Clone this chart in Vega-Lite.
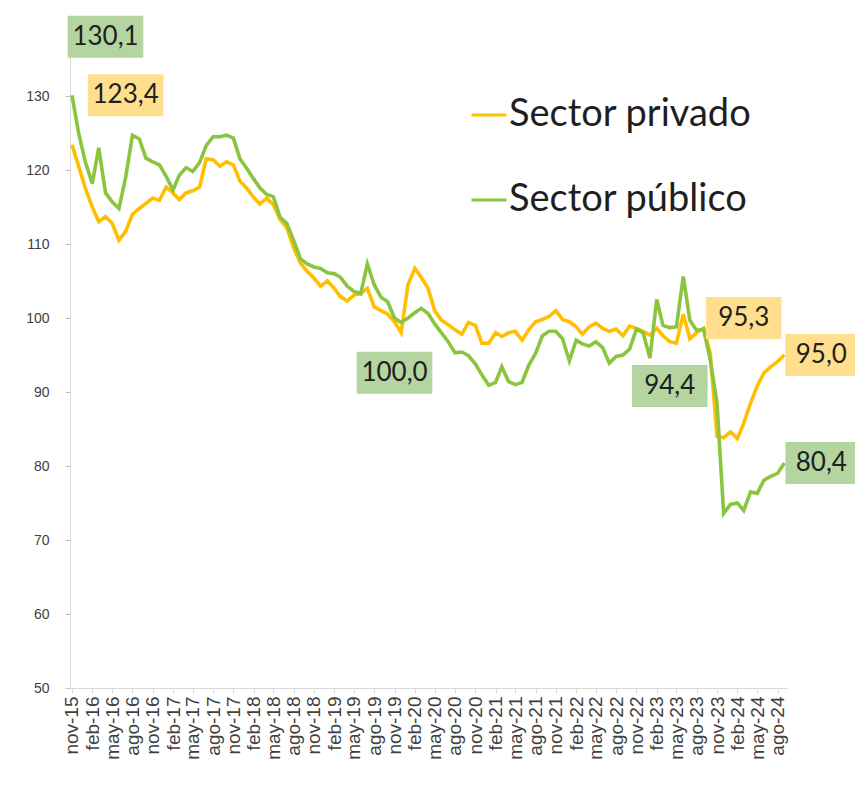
{
  "$schema": "https://vega.github.io/schema/vega-lite/v6.json",
  "width": 717,
  "height": 666,
  "autosize": {"type": "none"},
  "padding": {"left": 70, "top": 22, "right": 68, "bottom": 101},
  "background": "white",
  "config": {"view": {"stroke": null}, "font": "Liberation Sans"},
  "datasets": {
    "serie": [
      {"fecha": "2015-11-01", "privado": 123.4, "publico": 130.1},
      {"fecha": "2015-12-01", "privado": 120.5, "publico": 125.0},
      {"fecha": "2016-01-01", "privado": 117.5, "publico": 121.0},
      {"fecha": "2016-02-01", "privado": 115.0, "publico": 118.2},
      {"fecha": "2016-03-01", "privado": 113.0, "publico": 123.0},
      {"fecha": "2016-04-01", "privado": 113.7, "publico": 116.9},
      {"fecha": "2016-05-01", "privado": 112.8, "publico": 115.7},
      {"fecha": "2016-06-01", "privado": 110.5, "publico": 114.8},
      {"fecha": "2016-07-01", "privado": 111.7, "publico": 119.0},
      {"fecha": "2016-08-01", "privado": 114.0, "publico": 124.7},
      {"fecha": "2016-09-01", "privado": 114.8, "publico": 124.2},
      {"fecha": "2016-10-01", "privado": 115.5, "publico": 121.6},
      {"fecha": "2016-11-01", "privado": 116.2, "publico": 121.1},
      {"fecha": "2016-12-01", "privado": 115.9, "publico": 120.7},
      {"fecha": "2017-01-01", "privado": 117.7, "publico": 119.1},
      {"fecha": "2017-02-01", "privado": 116.9, "publico": 117.3},
      {"fecha": "2017-03-01", "privado": 116.0, "publico": 119.3},
      {"fecha": "2017-04-01", "privado": 116.9, "publico": 120.3},
      {"fecha": "2017-05-01", "privado": 117.2, "publico": 119.8},
      {"fecha": "2017-06-01", "privado": 117.7, "publico": 121.0},
      {"fecha": "2017-07-01", "privado": 121.5, "publico": 123.3},
      {"fecha": "2017-08-01", "privado": 121.4, "publico": 124.5},
      {"fecha": "2017-09-01", "privado": 120.5, "publico": 124.5},
      {"fecha": "2017-10-01", "privado": 121.1, "publico": 124.7},
      {"fecha": "2017-11-01", "privado": 120.7, "publico": 124.3},
      {"fecha": "2017-12-01", "privado": 118.5, "publico": 121.5},
      {"fecha": "2018-01-01", "privado": 117.5, "publico": 120.2},
      {"fecha": "2018-02-01", "privado": 116.3, "publico": 118.8},
      {"fecha": "2018-03-01", "privado": 115.4, "publico": 117.6},
      {"fecha": "2018-04-01", "privado": 116.2, "publico": 116.7},
      {"fecha": "2018-05-01", "privado": 115.3, "publico": 116.4},
      {"fecha": "2018-06-01", "privado": 113.3, "publico": 113.6},
      {"fecha": "2018-07-01", "privado": 112.2, "publico": 112.8},
      {"fecha": "2018-08-01", "privado": 109.5, "publico": 110.5},
      {"fecha": "2018-09-01", "privado": 107.4, "publico": 108.0},
      {"fecha": "2018-10-01", "privado": 106.3, "publico": 107.3},
      {"fecha": "2018-11-01", "privado": 105.4, "publico": 106.9},
      {"fecha": "2018-12-01", "privado": 104.3, "publico": 106.7},
      {"fecha": "2019-01-01", "privado": 105.0, "publico": 106.1},
      {"fecha": "2019-02-01", "privado": 104.0, "publico": 106.0},
      {"fecha": "2019-03-01", "privado": 102.9, "publico": 105.5},
      {"fecha": "2019-04-01", "privado": 102.3, "publico": 104.3},
      {"fecha": "2019-05-01", "privado": 103.1, "publico": 103.6},
      {"fecha": "2019-06-01", "privado": 103.3, "publico": 103.3},
      {"fecha": "2019-07-01", "privado": 104.0, "publico": 107.3},
      {"fecha": "2019-08-01", "privado": 101.5, "publico": 104.5},
      {"fecha": "2019-09-01", "privado": 101.0, "publico": 102.8},
      {"fecha": "2019-10-01", "privado": 100.5, "publico": 102.2},
      {"fecha": "2019-11-01", "privado": 99.5, "publico": 100.0},
      {"fecha": "2019-12-01", "privado": 98.0, "publico": 99.4},
      {"fecha": "2020-01-01", "privado": 104.5, "publico": 100.0},
      {"fecha": "2020-02-01", "privado": 106.7, "publico": 100.7},
      {"fecha": "2020-03-01", "privado": 105.5, "publico": 101.3},
      {"fecha": "2020-04-01", "privado": 104.0, "publico": 100.6},
      {"fecha": "2020-05-01", "privado": 101.0, "publico": 99.2},
      {"fecha": "2020-06-01", "privado": 99.7, "publico": 98.0},
      {"fecha": "2020-07-01", "privado": 99.1, "publico": 96.8},
      {"fecha": "2020-08-01", "privado": 98.4, "publico": 95.3},
      {"fecha": "2020-09-01", "privado": 97.8, "publico": 95.4},
      {"fecha": "2020-10-01", "privado": 99.4, "publico": 94.9},
      {"fecha": "2020-11-01", "privado": 99.0, "publico": 93.8},
      {"fecha": "2020-12-01", "privado": 96.6, "publico": 92.3},
      {"fecha": "2021-01-01", "privado": 96.6, "publico": 90.9},
      {"fecha": "2021-02-01", "privado": 98.0, "publico": 91.3},
      {"fecha": "2021-03-01", "privado": 97.5, "publico": 93.4},
      {"fecha": "2021-04-01", "privado": 98.0, "publico": 91.4},
      {"fecha": "2021-05-01", "privado": 98.2, "publico": 91.0},
      {"fecha": "2021-06-01", "privado": 97.0, "publico": 91.3},
      {"fecha": "2021-07-01", "privado": 98.4, "publico": 93.6},
      {"fecha": "2021-08-01", "privado": 99.5, "publico": 95.2},
      {"fecha": "2021-09-01", "privado": 99.8, "publico": 97.6},
      {"fecha": "2021-10-01", "privado": 100.2, "publico": 98.2},
      {"fecha": "2021-11-01", "privado": 101.0, "publico": 98.2},
      {"fecha": "2021-12-01", "privado": 99.8, "publico": 97.2},
      {"fecha": "2022-01-01", "privado": 99.5, "publico": 94.2},
      {"fecha": "2022-02-01", "privado": 98.8, "publico": 97.0},
      {"fecha": "2022-03-01", "privado": 97.8, "publico": 96.5},
      {"fecha": "2022-04-01", "privado": 98.8, "publico": 96.2},
      {"fecha": "2022-05-01", "privado": 99.3, "publico": 96.8},
      {"fecha": "2022-06-01", "privado": 98.6, "publico": 96.0},
      {"fecha": "2022-07-01", "privado": 98.2, "publico": 93.9},
      {"fecha": "2022-08-01", "privado": 98.5, "publico": 94.8},
      {"fecha": "2022-09-01", "privado": 97.6, "publico": 95.0},
      {"fecha": "2022-10-01", "privado": 98.9, "publico": 95.8},
      {"fecha": "2022-11-01", "privado": 98.6, "publico": 98.5},
      {"fecha": "2022-12-01", "privado": 98.2, "publico": 98.0},
      {"fecha": "2023-01-01", "privado": 97.7, "publico": 94.6},
      {"fecha": "2023-02-01", "privado": 98.6, "publico": 102.5},
      {"fecha": "2023-03-01", "privado": 97.6, "publico": 99.0},
      {"fecha": "2023-04-01", "privado": 96.8, "publico": 98.7},
      {"fecha": "2023-05-01", "privado": 96.6, "publico": 98.8},
      {"fecha": "2023-06-01", "privado": 100.5, "publico": 105.6},
      {"fecha": "2023-07-01", "privado": 97.2, "publico": 99.7},
      {"fecha": "2023-08-01", "privado": 98.0, "publico": 98.3},
      {"fecha": "2023-09-01", "privado": 98.6, "publico": 98.5},
      {"fecha": "2023-10-01", "privado": 95.3, "publico": 94.4},
      {"fecha": "2023-11-01", "privado": 84.0, "publico": 88.5},
      {"fecha": "2023-12-01", "privado": 83.8, "publico": 73.6},
      {"fecha": "2024-01-01", "privado": 84.6, "publico": 74.8},
      {"fecha": "2024-02-01", "privado": 83.7, "publico": 75.0},
      {"fecha": "2024-03-01", "privado": 85.8, "publico": 74.0},
      {"fecha": "2024-04-01", "privado": 88.5, "publico": 76.5},
      {"fecha": "2024-05-01", "privado": 90.8, "publico": 76.3},
      {"fecha": "2024-06-01", "privado": 92.6, "publico": 78.1},
      {"fecha": "2024-07-01", "privado": 93.4, "publico": 78.6},
      {"fecha": "2024-08-01", "privado": 94.1, "publico": 79.0},
      {"fecha": "2024-09-01", "privado": 95.0, "publico": 80.4}
    ],
    "etiquetas": [
      {"fecha": "2016-04-01", "nivel": 138.0, "texto": "130,1", "sector": "publico"},
      {"fecha": "2016-07-01", "nivel": 130.1, "texto": "123,4", "sector": "privado"},
      {"fecha": "2019-11-01", "nivel": 92.6, "texto": "100,0", "sector": "publico"},
      {"fecha": "2023-04-01", "nivel": 90.8, "texto": "94,4", "sector": "publico"},
      {"fecha": "2024-03-01", "nivel": 100.0, "texto": "95,3", "sector": "privado"}
    ],
    "finales": [
      {"fecha": "2024-09-01", "valor": 95.0, "texto": "95,0", "sector": "privado"},
      {"fecha": "2024-09-01", "valor": 80.4, "texto": "80,4", "sector": "publico"}
    ]
  },
  "encoding": {
    "x": {
      "field": "fecha",
      "type": "temporal",
      "scale": {
        "type": "utc",
        "domain": [
          {"year": 2015, "month": 10, "date": 23, "utc": true},
          {"year": 2024, "month": 9, "date": 13, "utc": true}
        ]
      },
      "axis": {
        "title": null,
        "grid": false,
        "values": [
          {"year": 2015, "month": 11, "date": 1, "utc": true},
          {"year": 2016, "month": 2, "date": 1, "utc": true},
          {"year": 2016, "month": 5, "date": 1, "utc": true},
          {"year": 2016, "month": 8, "date": 1, "utc": true},
          {"year": 2016, "month": 11, "date": 1, "utc": true},
          {"year": 2017, "month": 2, "date": 1, "utc": true},
          {"year": 2017, "month": 5, "date": 1, "utc": true},
          {"year": 2017, "month": 8, "date": 1, "utc": true},
          {"year": 2017, "month": 11, "date": 1, "utc": true},
          {"year": 2018, "month": 2, "date": 1, "utc": true},
          {"year": 2018, "month": 5, "date": 1, "utc": true},
          {"year": 2018, "month": 8, "date": 1, "utc": true},
          {"year": 2018, "month": 11, "date": 1, "utc": true},
          {"year": 2019, "month": 2, "date": 1, "utc": true},
          {"year": 2019, "month": 5, "date": 1, "utc": true},
          {"year": 2019, "month": 8, "date": 1, "utc": true},
          {"year": 2019, "month": 11, "date": 1, "utc": true},
          {"year": 2020, "month": 2, "date": 1, "utc": true},
          {"year": 2020, "month": 5, "date": 1, "utc": true},
          {"year": 2020, "month": 8, "date": 1, "utc": true},
          {"year": 2020, "month": 11, "date": 1, "utc": true},
          {"year": 2021, "month": 2, "date": 1, "utc": true},
          {"year": 2021, "month": 5, "date": 1, "utc": true},
          {"year": 2021, "month": 8, "date": 1, "utc": true},
          {"year": 2021, "month": 11, "date": 1, "utc": true},
          {"year": 2022, "month": 2, "date": 1, "utc": true},
          {"year": 2022, "month": 5, "date": 1, "utc": true},
          {"year": 2022, "month": 8, "date": 1, "utc": true},
          {"year": 2022, "month": 11, "date": 1, "utc": true},
          {"year": 2023, "month": 2, "date": 1, "utc": true},
          {"year": 2023, "month": 5, "date": 1, "utc": true},
          {"year": 2023, "month": 8, "date": 1, "utc": true},
          {"year": 2023, "month": 11, "date": 1, "utc": true},
          {"year": 2024, "month": 2, "date": 1, "utc": true},
          {"year": 2024, "month": 5, "date": 1, "utc": true},
          {"year": 2024, "month": 8, "date": 1, "utc": true}
        ],
        "labelExpr": "['ene','feb','mar','abr','may','jun','jul','ago','sep','oct','nov','dic'][utcmonth(datum.value)] + '-' + utcFormat(datum.value, '%y')",
        "labelAngle": 270,
        "labelFont": "Liberation Sans",
        "labelFontSize": 19,
        "labelColor": "#404040",
        "labelPadding": 3,
        "labelOverlap": false,
        "labelBound": false,
        "labelFlush": false,
        "tickSize": 5,
        "tickColor": "#D9D9D9",
        "domainColor": "#D9D9D9"
      }
    }
  },
  "layer": [
    {
      "data": {"name": "serie"},
      "transform": [{"fold": ["privado", "publico"], "as": ["sector", "valor"]}],
      "mark": {"type": "line", "strokeWidth": 3.6},
      "encoding": {
        "y": {
          "field": "valor",
          "type": "quantitative",
          "scale": {"domain": [50, 140], "nice": false, "zero": false},
          "axis": {
            "title": null,
            "grid": false,
            "values": [50, 60, 70, 80, 90, 100, 110, 120, 130],
            "labelFont": "Liberation Sans",
            "labelFontSize": 14,
            "labelColor": "#404040",
            "labelPadding": 16,
            "tickSize": 5,
            "tickColor": "#BFBFBF",
            "domainColor": "#D9D9D9"
          }
        },
        "color": {
          "field": "sector",
          "type": "nominal",
          "scale": {"domain": ["privado", "publico"], "range": ["#FFBF00", "#8BC540"]},
          "legend": {
            "orient": "none",
            "legendX": 400,
            "legendY": 74,
            "title": null,
            "padding": 0,
            "symbolType": "stroke",
            "symbolSize": 1225,
            "symbolStrokeWidth": 3,
            "labelFont": "Lato",
            "labelFontSize": 38,
            "labelColor": "#1F1F1F",
            "labelOffset": 1,
            "labelLimit": 400,
            "rowPadding": 47,
            "labelExpr": "datum.label == 'privado' ? 'Sector privado' : 'Sector público'"
          }
        }
      }
    },
    {
      "data": {"name": "etiquetas"},
      "mark": {"type": "point", "shape": "M-1.8,-1L1.8,-1L1.8,1L-1.8,1Z", "filled": true, "size": 1764, "opacity": 1, "strokeWidth": 0},
      "encoding": {
        "y": {"field": "nivel", "type": "quantitative"},
        "fill": {"condition": {"test": "datum.sector === 'privado'", "value": "#FFDE8E"}, "value": "#B5D5A0"}
      }
    },
    {
      "data": {"name": "etiquetas"},
      "mark": {"type": "text", "font": "Lato", "fontSize": 26, "color": "#1F1F1F", "align": "center", "baseline": "middle"},
      "encoding": {
        "y": {"field": "nivel", "type": "quantitative"},
        "text": {"field": "texto"}
      }
    },
    {
      "data": {"name": "finales"},
      "mark": {"type": "point", "shape": "M0.05,-1L3.4,-1L3.4,1L0.05,1Z", "filled": true, "size": 1764, "opacity": 1, "strokeWidth": 0},
      "encoding": {
        "y": {"field": "valor", "type": "quantitative"},
        "fill": {"condition": {"test": "datum.sector === 'privado'", "value": "#FFDE8E"}, "value": "#B5D5A0"}
      }
    },
    {
      "data": {"name": "finales"},
      "mark": {"type": "text", "font": "Lato", "fontSize": 26, "color": "#1F1F1F", "align": "center", "baseline": "middle", "dx": 37},
      "encoding": {
        "y": {"field": "valor", "type": "quantitative"},
        "text": {"field": "texto"}
      }
    }
  ]
}
